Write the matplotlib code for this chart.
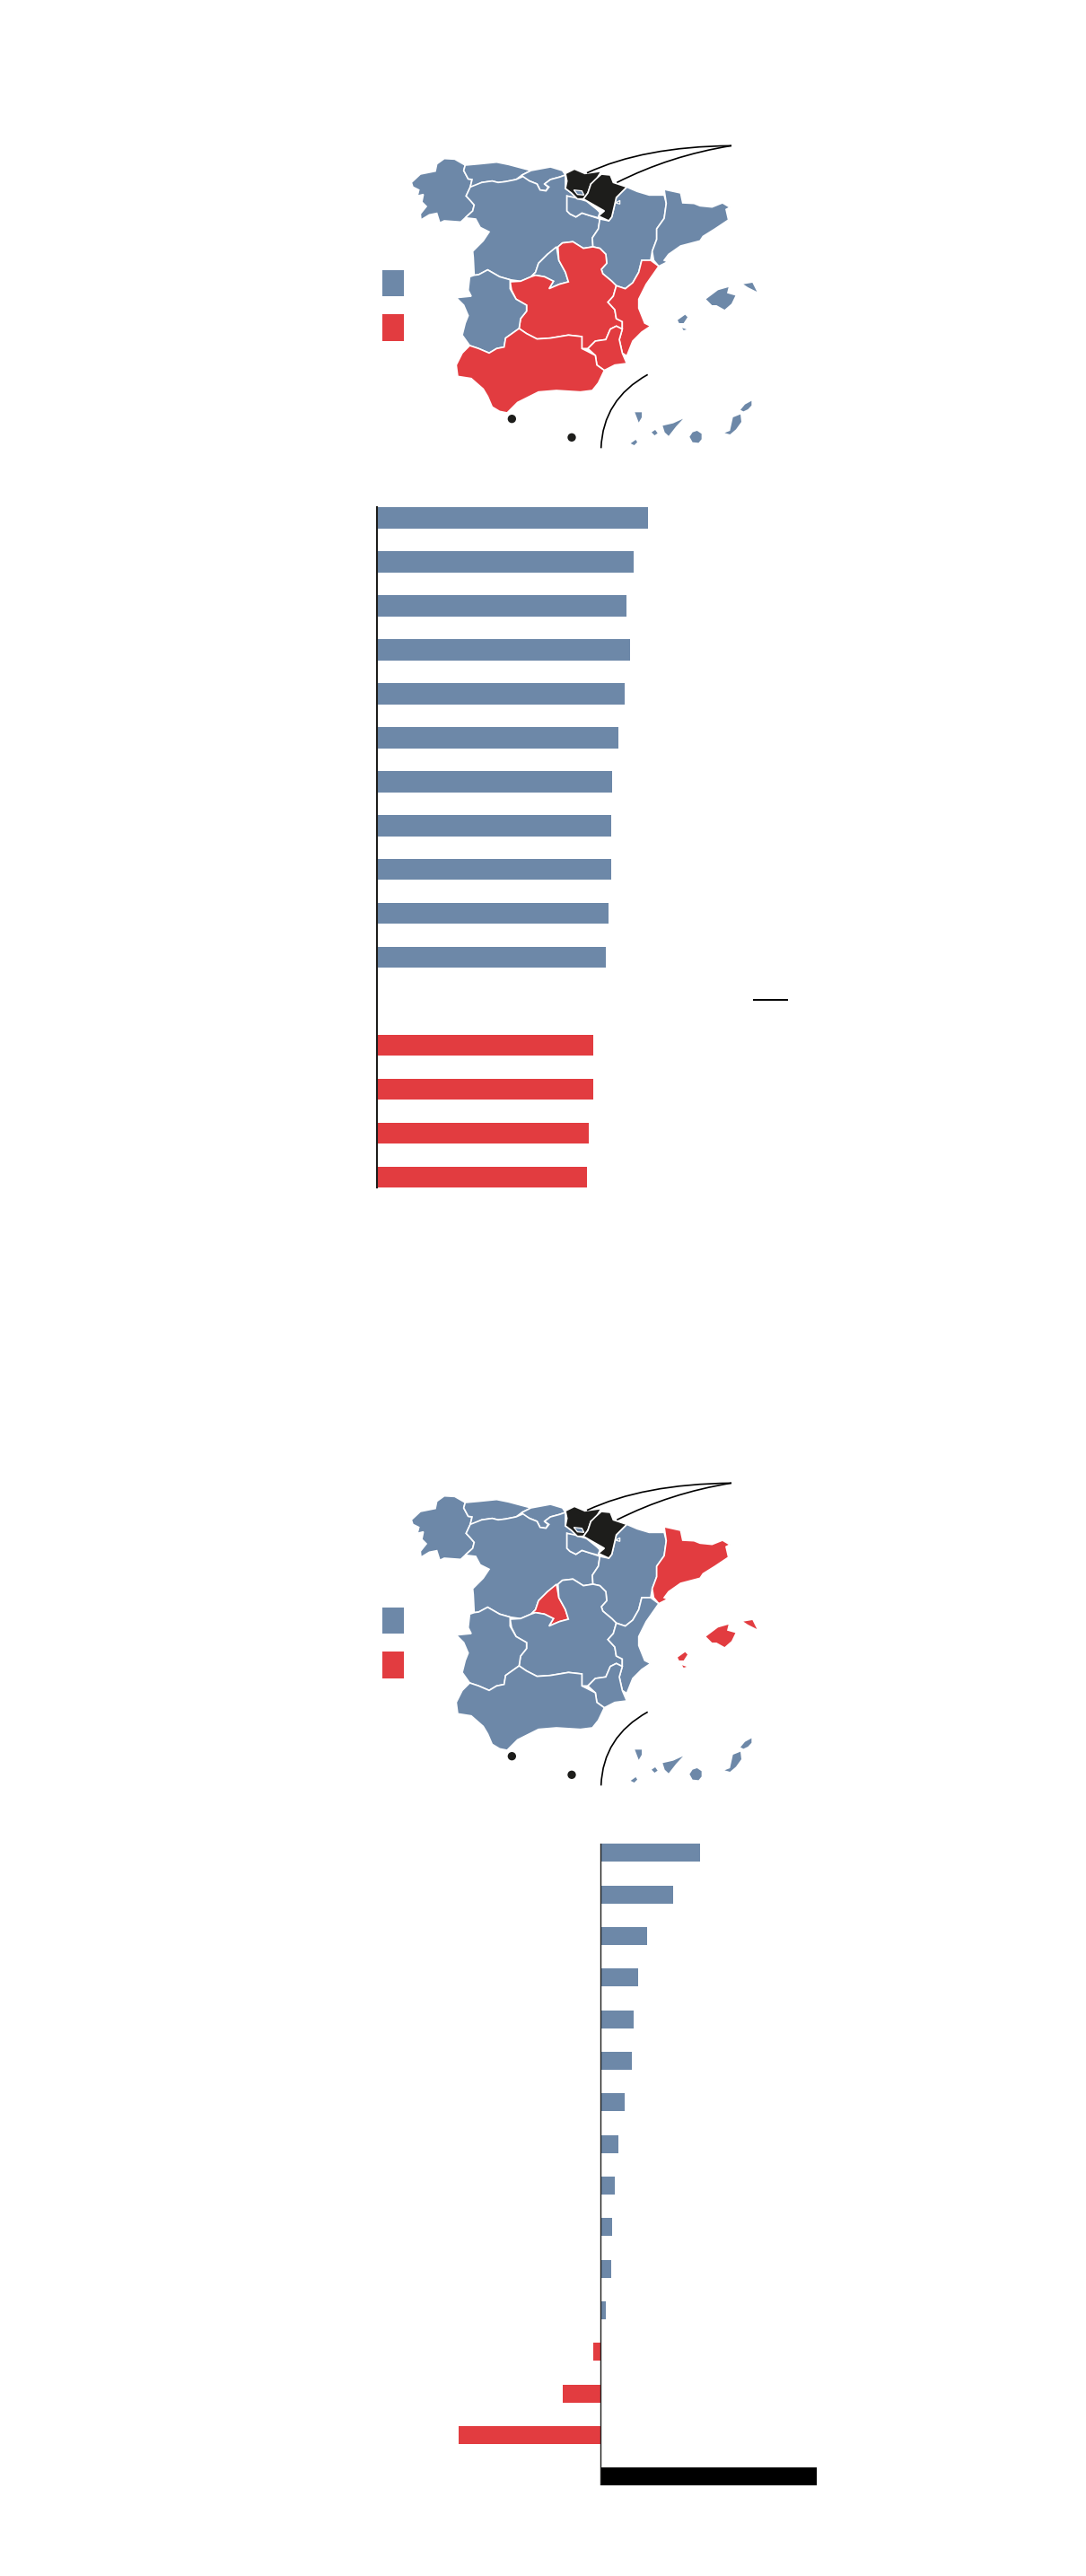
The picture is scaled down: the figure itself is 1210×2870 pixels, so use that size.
import matplotlib
matplotlib.use('Agg')
import matplotlib.pyplot as plt
from matplotlib.path import Path
from matplotlib.patches import PathPatch, Circle, Rectangle

# === COLOURS ===
BLUE = '#6d88a8'
RED = '#e23c40'
DARK = '#1d1d1b'

W, H = 1210, 2870

# === BAR DATA ===
top_values = [301, 285, 277, 281, 275, 268, 261, 260, 260, 257, 254, 0, 240, 240, 235, 233]
top_colors = [BLUE] * 12 + [RED] * 4

bottom_values = [111.3, 81, 52, 42.3, 37, 34.7, 27, 20, 16, 12.7, 11.7, 6, -7.7, -42.3, -158, 241.5]
bottom_colors = [BLUE] * 12 + [RED] * 3 + ['black']

# === MAP OUTLINES ===
galicia = [(175,190),(205,162),(255,152),(260,128),(285,110),(320,112),(355,132),(350,150),(365,178),(378,180),(372,205),(358,235),(372,250),(385,265),(380,285),(355,308),(340,322),(285,318),(270,325),(260,293),(235,298),(207,315),(205,295),(225,270),(210,255),(215,230),(195,235),(200,215),(180,205)]
asturias = [(355,132),(400,128),(460,122),(500,130),(575,150),(545,165),(525,180),(490,187),(465,190),(445,185),(410,190),(380,205),(372,205),(378,180),(365,178),(350,150)]
cantabria = [(575,150),(640,138),(680,150),(690,165),(670,172),(640,180),(620,195),(632,205),(625,218),(605,215),(595,195),(570,185),(548,175),(545,165)]
basque = [(690,160),(720,145),(755,160),(810,152),(790,185),(775,195),(765,225),(750,245),(730,245),(710,225),(690,210),(695,185)]
navarre = [(810,162),(840,165),(850,190),(895,205),(860,240),(852,275),(845,305),(835,318),(800,302),(820,285),(785,265),(750,245),(765,225),(775,195),(790,180)]
trevino = [(718,215),(745,218),(752,232),(730,230)]
petilla = [(858,258),(872,250),(872,262)]
rioja = [(695,235),(720,240),(760,252),(795,280),(805,290),(800,308),(770,300),(745,292),(725,305),(705,295),(695,285)]
castile_leon = [(372,205),(410,190),(445,185),(465,190),(490,187),(525,180),(548,170),(570,185),(595,195),(605,215),(625,218),(635,205),(620,195),(640,180),(670,172),(690,165),(690,210),(710,225),(730,245),(695,235),(695,285),(705,295),(725,305),(745,292),(770,300),(805,312),(800,345),(780,375),(782,405),(750,410),(715,388),(680,392),(665,405),(630,430),(600,460),(590,490),(575,505),(540,520),(505,515),(470,505),(430,482),(400,498),(385,500),(382,440),(380,420),(415,385),(435,355),(405,340),(390,312),(355,308),(380,285),(385,265),(372,250),(358,235)]
aragon = [(895,205),(930,220),(970,232),(1020,232),(1027,260),(1020,310),(995,345),(995,380),(980,420),(975,450),(945,450),(935,490),(915,525),(890,545),(860,535),(845,520),(815,495),(810,480),(828,460),(825,430),(805,410),(782,405),(780,375),(800,345),(805,312),(835,318),(845,305),(852,275),(860,240)]
catalonia = [(1020,213),(1075,225),(1082,258),(1120,260),(1140,268),(1180,272),(1215,258),(1240,273),(1227,280),(1235,315),(1190,345),(1150,370),(1140,385),(1075,402),(1035,430),(1020,450),(1032,455),(1002,470),(985,450),(980,420),(995,380),(995,345),(1020,310),(1027,260)]
madrid = [(660,405),(668,450),(690,490),(700,522),(670,530),(635,545),(650,520),(620,505),(590,500),(575,505),(590,490),(600,460),(630,430)]
castile_mancha = [(665,405),(680,392),(715,388),(750,410),(782,405),(805,410),(825,430),(828,460),(810,480),(815,495),(845,520),(860,535),(850,570),(832,590),(855,615),(860,645),(880,655),(880,680),(860,670),(840,680),(825,715),(790,720),(765,745),(745,745),(745,705),(700,700),(640,710),(595,713),(560,695),(535,678),(540,645),(560,620),(560,600),(525,580),(510,550),(505,522),(540,520),(575,505),(590,500),(620,505),(650,520),(635,545),(670,530),(700,522),(690,490),(668,450)]
valencia = [(945,450),(975,450),(1002,470),(960,530),(935,580),(935,610),(955,660),(975,670),(945,690),(915,720),(895,770),(880,760),(870,715),(880,680),(880,655),(860,645),(855,615),(832,590),(850,570),(860,535),(890,545),(915,525),(935,490)]
murcia = [(765,745),(790,720),(825,715),(840,680),(860,670),(880,680),(870,715),(880,760),(895,795),(855,800),(820,818),(795,800),(790,768)]
extremadura = [(385,500),(400,498),(430,482),(470,505),(505,515),(505,545),(525,580),(560,600),(560,620),(540,645),(535,678),(490,710),(485,740),(460,745),(435,760),(400,745),(370,735),(345,700),(355,660),(365,635),(350,600),(325,575),(375,570),(365,550),(370,505)]
andalusia = [(370,735),(400,745),(435,760),(460,745),(485,740),(490,710),(535,678),(560,695),(595,713),(640,710),(700,700),(745,705),(745,745),(765,755),(790,768),(795,800),(820,818),(800,860),(780,885),(740,890),(660,885),(600,890),(570,905),(530,925),(495,960),(470,955),(445,940),(430,905),(415,880),(375,845),(330,838),(325,800),(345,760)]
mallorca = [(1160,580),(1200,550),(1235,540),(1230,560),(1258,568),(1245,595),(1222,615),(1195,600),(1180,600)]
menorca = [(1285,530),(1315,525),(1330,555),(1300,540)]
ibiza = [(1065,650),(1090,632),(1098,640),(1085,660),(1070,660)]
formentera = [(1080,676),(1095,681),(1085,684)]
la_palma = [(922,958),(945,958),(945,975),(935,992)]
hierro = [(908,1062),(925,1050),(930,1058),(920,1068)]
gomera = [(978,1025),(990,1017),(998,1028),(988,1035)]
tenerife = [(1015,1003),(1050,995),(1083,980),(1060,1005),(1035,1037),(1022,1025)]
gran_canaria = [(1105,1040),(1115,1025),(1130,1020),(1145,1030),(1145,1048),(1135,1060),(1115,1058)]
fuerteventura = [(1222,1027),(1240,1020),(1250,975),(1275,965),(1278,990),(1260,1015),(1240,1032)]
lanzarote = [(1275,950),(1290,932),(1312,920),(1312,935),(1300,948),(1285,955)]

ceuta = (511, 980)
melilla = (711, 1042)

mainland = [galicia, asturias, cantabria, castile_leon, rioja, aragon, catalonia, madrid,
            castile_mancha, valencia, murcia, extremadura, andalusia]
balearics = [mallorca, menorca, ibiza, formentera]
canaries = [la_palma, hierro, gomera, tenerife, gran_canaria, fuerteventura, lanzarote]

top_red = [castile_mancha, valencia, murcia, andalusia]
bottom_red = [madrid, catalonia] + balearics


# === AXES PLACED BY PIXEL BOX ===
def axes_px(fig, x0, y0, x1, y1):
    ax = fig.add_axes([x0 / W, 1 - y1 / H, (x1 - x0) / W, (y1 - y0) / H])
    ax.patch.set_alpha(0)
    return ax


# === DRAW ONE MAP ===
def draw_map(fig, top, red_regions):
    ax = axes_px(fig, 400, top, 880, top + 380)
    ax.set_xlim(0, 1440)
    ax.set_ylim(1140, 0)
    ax.axis('off')

    # Islands have no border, so draw them apart from the mainland
    for region in balearics + canaries:
        color = RED if region in red_regions else BLUE
        ax.fill(*zip(*region), facecolor=color, linewidth=0, zorder=2)
    for region in mainland:
        color = RED if region in red_regions else BLUE
        ax.fill(*zip(*region), facecolor=color, edgecolor='white', linewidth=1.2, zorder=2)
    for region in [basque, navarre]:
        ax.fill(*zip(*region), facecolor=DARK, edgecolor='white', linewidth=1.2, zorder=3)
    for region in [trevino, petilla]:
        ax.fill(*zip(*region), facecolor=BLUE, edgecolor='white', linewidth=0.9, zorder=3)

    # Ceuta and Melilla
    ax.add_patch(Circle(ceuta, 14, color=DARK, lw=0))
    ax.add_patch(Circle(melilla, 14, color=DARK, lw=0))

    # Curved leader lines and the Canaries inset arc
    for pts in [[(1245, 67), (950, 70), (762, 158)],
                [(1245, 67), (1040, 100), (862, 190)],
                [(965, 832), (815, 915), (809, 1078)]]:
        path = Path(pts, [Path.MOVETO, Path.CURVE3, Path.CURVE3])
        ax.add_patch(PathPatch(path, fc='none', ec='black', lw=1.2, zorder=4))

    # Legend swatches
    ax.add_patch(Rectangle((78, 484), 72, 87, fc=BLUE, lw=0))
    ax.add_patch(Rectangle((78, 631), 72, 88, fc=RED, lw=0))


# === TOP BARS ===
def draw_top_bars(fig):
    ax = axes_px(fig, 420, 565, 900, 1323.3)
    rows = range(len(top_values))
    ax.barh(rows, top_values, height=0.484, color=top_colors, linewidth=0)
    ax.plot([417.7, 456.5], [10.97, 10.97], color='black', lw=1.4, solid_capstyle='butt')
    ax.set_xlim(-1, 479)
    ax.set_ylim(15.242, -0.242)
    ax.set_xticks([])
    ax.set_yticks([])
    for side in ['top', 'right', 'bottom']:
        ax.spines[side].set_visible(False)
    ax.spines['left'].set_color(DARK)
    ax.spines['left'].set_linewidth(1.5)


# === BOTTOM BARS ===
def draw_bottom_bars(fig):
    ax = axes_px(fig, 480, 2054.3, 940, 2769.3)
    rows = range(len(bottom_values))
    ax.barh(rows, bottom_values, height=0.432, color=bottom_colors, linewidth=0)
    ax.axvline(0, color=DARK, lw=1.0)
    ax.set_xlim(-188.8, 271.2)
    ax.set_ylim(15.216, -0.216)
    ax.axis('off')


fig = plt.figure(figsize=(W / 100, H / 100), dpi=100, facecolor='white')
draw_map(fig, 140, top_red)
draw_top_bars(fig)
draw_map(fig, 1630, bottom_red)
draw_bottom_bars(fig)
fig.savefig('out.png', dpi=100)
